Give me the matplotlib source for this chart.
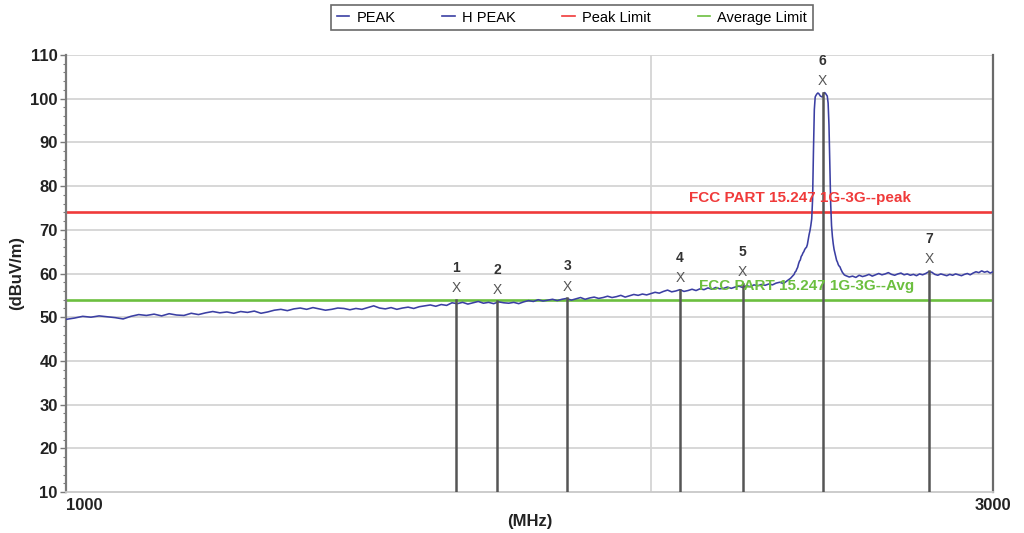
import numpy as np
import matplotlib
matplotlib.use("Agg")
import matplotlib.pyplot as plt
from matplotlib.ticker import MultipleLocator, NullLocator, FixedLocator, NullFormatter
from matplotlib.lines import Line2D

plt.rcParams['font.family'] = ['Liberation Sans', 'DejaVu Sans']

# ---------------- data ----------------
# sweep 1: 1000-2360 MHz, 10 MHz step
freq_low = np.arange(1000, 2361, 10)
level_low = [
    49.5, 49.8, 50.2, 50.0, 50.3, 50.1, 49.9, 49.6, 50.2, 50.6,
    50.4, 50.7, 50.3, 50.8, 50.5, 50.4, 50.9, 50.6, 51.0, 51.3,
    51.0, 51.2, 50.9, 51.3, 51.1, 51.4, 50.9, 51.2, 51.6, 51.8,
    51.5, 51.9, 52.1, 51.8, 52.2, 51.9, 51.6, 51.8, 52.1, 52.0,
    51.7, 52.0, 51.8, 52.2, 52.6, 52.1, 51.9, 52.2, 51.8, 52.1,
    52.3, 52.0, 52.4, 52.6, 52.8, 52.5, 52.9, 52.7, 53.3, 53.1,
    53.4, 53.0, 53.3, 53.6, 53.2, 53.4, 53.1, 53.5, 53.3, 53.2,
    53.4, 53.1, 53.5, 53.8, 53.6, 54.0, 53.7, 53.9, 54.1, 53.8,
    54.1, 54.3, 53.9, 54.2, 54.5, 54.1, 54.4, 54.6, 54.3, 54.5,
    54.8, 54.5, 54.7, 55.0, 54.6, 54.9, 55.2, 55.0, 55.3, 55.1,
    55.4, 55.7, 55.5, 55.9, 56.2, 55.8, 56.0, 56.3, 55.9, 56.1,
    56.4, 56.1, 56.5, 56.3, 56.7, 56.4, 56.8, 56.5, 56.6, 56.9,
    56.6, 56.9, 57.1, 56.8, 57.2, 57.0, 57.4, 57.2, 57.5, 57.3,
    57.6, 57.4, 57.8, 58.0, 57.7, 58.3, 58.9,
]
# sweep 2: 2370-2517.5 MHz, 2.5 MHz step (carrier region)
freq_mid = np.arange(2370, 2518, 2.5)
level_mid = [
    59.8, 60.3, 60.5, 61.0, 61.4, 62.2, 62.8, 63.1, 63.9, 64.2,
    64.7, 65.0, 65.5, 65.8, 66.0, 66.6, 67.8, 68.9, 69.8, 71.0,
    72.5, 77.0, 88.0, 97.5, 100.4, 100.8, 101.1, 101.3, 101.2, 100.9,
    100.6, 100.5, 100.4, 100.7, 101.3, 101.4, 101.2, 100.9, 100.6, 99.0,
    94.0, 85.0, 76.0, 71.0, 68.5, 66.8, 65.5, 64.7, 63.8, 63.0,
    62.6, 62.0, 61.7, 61.5, 61.0, 60.6, 60.2, 60.0, 59.7, 59.6,
]
# sweep 3: 2520-3000 MHz, 10 MHz step
freq_high = np.arange(2520, 3001, 10)
level_high = [
    59.5, 59.2, 59.4, 59.1, 59.6, 59.3, 59.5, 59.8, 59.4, 59.7,
    60.0, 59.7, 59.9, 60.2, 59.8, 59.6, 59.9, 60.1, 59.7, 59.9,
    59.6, 59.8, 59.5, 59.9, 59.7, 60.0, 60.4, 60.3, 59.8, 59.6,
    59.9, 59.7, 59.5, 59.8, 59.6, 59.9, 59.7, 59.5, 59.8, 60.0,
    59.7, 60.1, 60.4, 60.2, 60.6, 60.3, 60.5, 60.1, 60.4,
]

peak_limit = 74.0
avg_limit = 54.0
peak_limit_label = "FCC PART 15.247 1G-3G--peak"
avg_limit_label = "FCC PART 15.247 1G-3G--Avg"

marker_ids = ["1", "2", "3", "4", "5", "6", "7"]
marker_freq = [1588, 1667, 1811, 2070, 2230, 2452, 2782]
marker_level = [53.9, 53.6, 54.3, 56.2, 57.7, 101.4, 60.6]

legend_labels = ["PEAK", "H PEAK", "Peak Limit", "Average Limit"]

# ---------------- styles ----------------
c_trace = "#3b3fa3"
c_red = "#f03a3a"
c_green = "#6cbf3f"
c_grid = "#d4d4d4"
c_marker = "#555555"

freq = np.concatenate([freq_low, freq_mid, freq_high])
level = np.array(level_low + level_mid + level_high)

fig = plt.figure(figsize=(10.24, 5.33), dpi=100)
ax = fig.add_axes([66/1024, 1-492/533, (993-66)/1024, (492-55)/533])

ax.set_xscale('log')
ax.set_xlim(1000, 3000)
ax.set_ylim(10, 110)

# grid
ax.yaxis.set_major_locator(MultipleLocator(10))
ax.yaxis.set_minor_locator(MultipleLocator(2))
for yv in range(20, 111, 10):
    ax.axhline(yv, color=c_grid, lw=1.3, zorder=0)
ax.axvline(2000, color=c_grid, lw=1.3, zorder=0)

# limits
ax.axhline(peak_limit, color=c_red, lw=1.9, zorder=2)
ax.axhline(avg_limit, color=c_green, lw=1.9, zorder=2)

# trace
ax.plot(freq, level, color=c_trace, lw=1.15, zorder=3)

# markers
for mid, mf, ml in zip(marker_ids, marker_freq, marker_level):
    ax.plot([mf, mf], [10, ml], color=c_marker, lw=1.8, zorder=4)
    ax.annotate("X", (mf, ml), xytext=(0, 8.5), textcoords='offset points',
                ha='center', va='center', fontsize=10, color=c_marker, zorder=5)
    ax.annotate(mid, (mf, ml), xytext=(0, 23), textcoords='offset points',
                ha='center', va='center', fontsize=10, fontweight='bold',
                color='#333333', zorder=5)

# limit labels
ax.text(2386, peak_limit + 3.2, peak_limit_label, color=c_red, fontsize=11,
        fontweight='bold', ha='center', va='center', zorder=6)
ax.text(2405, avg_limit + 3.1, avg_limit_label, color=c_green, fontsize=11,
        fontweight='bold', ha='center', va='center', zorder=6)

# axes styling
ax.spines['top'].set_visible(False)
ax.spines['left'].set_color('#7a7a7a')
ax.spines['left'].set_linewidth(1.6)
ax.spines['right'].set_color('#6a6a6a')
ax.spines['right'].set_linewidth(1.6)
ax.spines['bottom'].set_color('#c8c8c8')
ax.spines['bottom'].set_linewidth(1.3)

ax.xaxis.set_major_locator(FixedLocator([1000, 3000]))
ax.xaxis.set_minor_locator(NullLocator())
ax.xaxis.set_minor_formatter(NullFormatter())
ax.set_xticklabels(["1000", "3000"])
ax.tick_params(axis='x', length=0, pad=4, labelsize=12, labelcolor='#222222')
for lab in ax.get_xticklabels():
    lab.set_fontweight('bold')
ax.get_xticklabels()[0].set_horizontalalignment('left')

ax.tick_params(axis='y', which='major', length=4, width=1, color='#7a7a7a',
               labelsize=12, labelcolor='#222222', pad=2)
ax.tick_params(axis='y', which='minor', length=2.5, width=0.8, color='#7a7a7a')
for lab in ax.get_yticklabels():
    lab.set_fontweight('bold')

ax.set_xlabel("(MHz)", fontsize=12, fontweight='bold', color='#222222', labelpad=1)
ax.set_ylabel("(dBuV/m)", fontsize=12, fontweight='bold', color='#222222', labelpad=4)

# legend
handles = [Line2D([], [], color=c_trace, lw=1.2),
           Line2D([], [], color=c_trace, lw=1.2),
           Line2D([], [], color=c_red, lw=1.2),
           Line2D([], [], color=c_green, lw=1.2)]
leg = fig.legend(handles, legend_labels, loc='center', bbox_to_anchor=(572/1024, 1-17.5/533),
                 ncol=4, fontsize=10.5, handlelength=0.85, handletextpad=0.5,
                 columnspacing=3.2, frameon=True, fancybox=False, borderpad=0.4)
leg.get_frame().set_edgecolor('#444444')
leg.get_frame().set_linewidth(1.2)

fig.savefig("out.png", dpi=100)
